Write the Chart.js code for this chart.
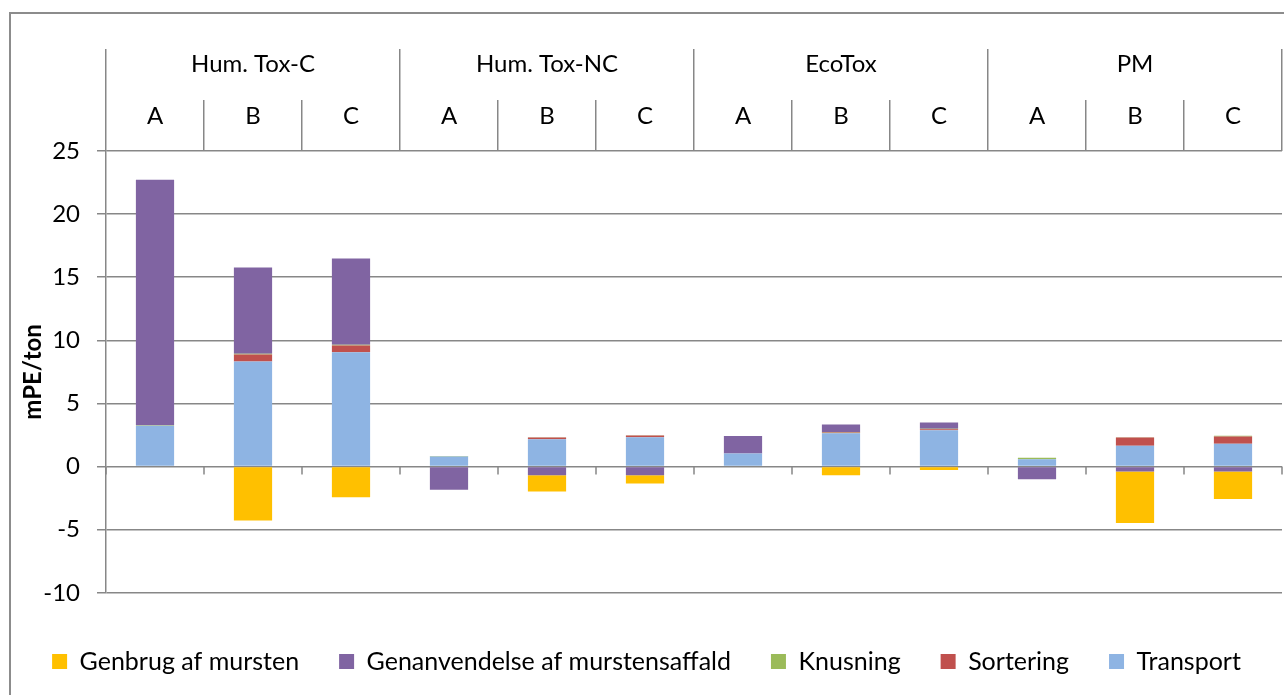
<!DOCTYPE html>
<html lang="da">
  <head>
    <meta charset="UTF-8" />
    <title>mPE/ton</title>
    <script src="https://cdn.jsdelivr.net/npm/chart.js"></script>
    <style>
      body {
        margin: 0;
        background: #ffffff;
      }
      .frame {
        position: absolute;
        left: 9px;
        top: 12px;
        border-left: 2px solid #8c8c8c;
        border-top: 2px solid #8c8c8c;
      }
      .box {
        position: relative;
        width: 1273px;
        height: 681px;
      }
    </style>
  </head>
  <body>
    <div class="frame">
      <div class="box"><canvas id="chart"></canvas></div>
    </div>

    <script>
      // impact categories (top header row) and scenarios (second row)
      const groups = ["Hum. Tox-C", "Hum. Tox-NC", "EcoTox", "PM"];
      const scenarios = ["A", "B", "C"];
      const labels = groups.flatMap(() => scenarios);

      // values in mPE/ton, one per bar (4 groups x A,B,C)
      const transport = [3.23, 8.33, 9.05, 0.8, 2.17, 2.33, 1.03, 2.64, 2.88, 0.58, 1.64, 1.8];
      const sortering = [0, 0.55, 0.55, 0, 0.13, 0.13, 0, 0.06, 0.08, 0, 0.66, 0.58];
      const knusning = [0.05, 0.06, 0.05, 0.03, 0.02, 0.02, 0, 0.03, 0.03, 0.12, 0.02, 0.06];
      const genanvendelse = [19.45, 6.83, 6.83, -1.83, -0.69, -0.69, 1.4, 0.6, 0.5, -1.0, -0.4, -0.4];
      const genbrug = [0, -4.28, -2.43, 0, -1.29, -0.66, 0, -0.69, -0.27, 0, -4.07, -2.16];

      const yTicks = [-10, -5, 0, 5, 10, 15, 20, 25];

      const gridColor = "#878787";
      const family = "Lato, 'Open Sans', sans-serif";
      const font = { family: family, size: 24, lineHeight: 1 };

      // stacking order from zero outwards: transport first, genbrug last
      const datasets = [
        { label: "Transport", data: transport, backgroundColor: "#8eb4e3" },
        { label: "Sortering", data: sortering, backgroundColor: "#c0504d" },
        { label: "Knusning", data: knusning, backgroundColor: "#9bbb59" },
        { label: "Genanvendelse af murstensaffald", data: genanvendelse, backgroundColor: "#8064a2" },
        { label: "Genbrug af mursten", data: genbrug, backgroundColor: "#ffc000" },
      ].map((d) => ({ ...d, barPercentage: 0.39, categoryPercentage: 1 }));

      // small tick marks under the zero line, at every category boundary
      const zeroTicks = {
        id: "zeroTicks",
        afterDraw(chart) {
          const { ctx, scales } = chart;
          const x = scales.x;
          const y0 = scales.y.getPixelForValue(0);
          const half = (x.getPixelForValue(1) - x.getPixelForValue(0)) / 2;
          ctx.save();
          ctx.strokeStyle = gridColor;
          ctx.lineWidth = 1.5;
          ctx.beginPath();
          for (let i = 0; i <= labels.length; i++) {
            const px = x.getPixelForValue(i) - half;
            ctx.moveTo(px, y0);
            ctx.lineTo(px, y0 + 8);
          }
          ctx.stroke();
          ctx.restore();
        },
      };

      new Chart(document.getElementById("chart"), {
        type: "bar",
        data: { labels: labels, datasets: datasets },
        plugins: [zeroTicks],
        options: {
          responsive: true,
          maintainAspectRatio: false,
          animation: false,
          layout: { padding: { top: 35, right: 2, bottom: 11, left: 0 } },
          scales: {
            // A / B / C row
            x: {
              position: "top",
              stacked: true,
              weight: 0,
              afterFit: (scale) => {
                scale.height = 51;
              },
              grid: { offset: true, drawOnChartArea: false, tickLength: 51, color: gridColor, lineWidth: 1.5 },
              border: { display: false },
              ticks: { color: "#000", font: font, padding: -28 },
            },
            // group row
            x2: {
              type: "category",
              position: "top",
              labels: groups,
              offset: true,
              weight: 1,
              afterFit: (scale) => {
                scale.height = 51;
              },
              grid: { offset: true, drawOnChartArea: false, tickLength: 51, color: gridColor, lineWidth: 1.5 },
              border: { display: false },
              ticks: { color: "#000", font: font, padding: -27.7 },
            },
            y: {
              stacked: true,
              min: -10,
              max: 25,
              afterFit: (scale) => {
                scale.width = 95;
              },
              afterBuildTicks: (scale) => {
                scale.ticks = yTicks.map((v) => ({ value: v }));
              },
              grid: { color: gridColor, lineWidth: 1.5, tickLength: 9 },
              border: { display: true, color: gridColor, width: 1.5 },
              ticks: { color: "#000", font: font, padding: 17 },
              title: {
                display: true,
                text: "mPE/ton",
                color: "#000",
                font: { family: family, size: 24, weight: "bold", lineHeight: 1.2 },
                padding: { top: 8, bottom: 0 },
              },
            },
          },
          plugins: {
            legend: {
              position: "bottom",
              reverse: true,
              title: { display: true, text: "", font: { size: 1 }, padding: { top: 15, bottom: 0 } },
              labels: {
                color: "#000",
                font: { family: family, size: 25 },
                boxWidth: 15,
                boxHeight: 15,
                padding: 40,
              },
            },
            tooltip: { enabled: false },
          },
        },
      });
    </script>
  </body>
</html>
